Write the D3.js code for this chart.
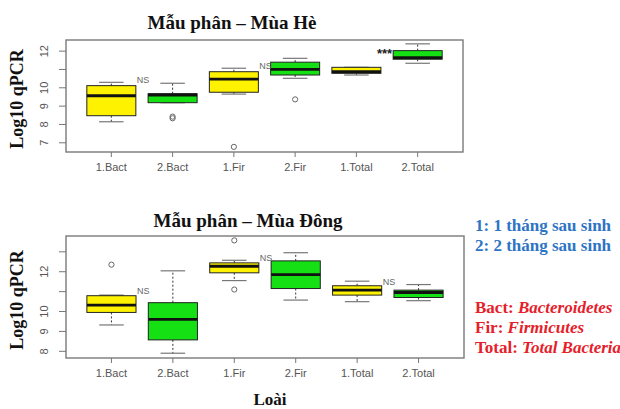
<!DOCTYPE html>
<html>
<head>
<meta charset="utf-8">
<script src="https://cdn.jsdelivr.net/npm/d3@7"></script>
<style>
  html, body { margin: 0; padding: 0; background: #fff; }
  svg { display: block; }
</style>
</head>
<body>
<svg id="chart" width="620" height="409"></svg>
<script>
// Group labels and fills (1 = one month after birth, 2 = two months)
const categories = ["1.Bact", "2.Bact", "1.Fir", "2.Fir", "1.Total", "2.Total"];
const fills = ["#FFF200", "#14E014", "#FFF200", "#14E014", "#FFF200", "#14E014"];

// Summer (Mùa Hè) box statistics, log10 qPCR
const summerLower  = [8.12, 9.16, 9.63, 10.49, 10.67, 11.31];
const summerQ1     = [8.45, 9.16, 9.73, 10.67, 10.76, 11.53];
const summerMedian = [9.54, 9.58, 10.45, 10.98, 10.85, 11.62];
const summerQ3     = [10.09, 9.65, 10.85, 11.37, 11.09, 12.0];
const summerUpper  = [10.27, 10.22, 11.04, 11.58, 11.09, 12.37];
const summerOutliers = [[], [8.31, 8.4], [6.75], [9.34], [], []];
const summerTicks = [7, 8, 9, 10, 11, 12];
const summerTickLabels = ["7", "8", "9", "10", "", "12"];
// significance of 1-month vs 2-month comparison, placed at a log10 level
const summerMarks = [
  { after: 0, text: "NS", level: 10.45 },
  { after: 2, text: "NS", level: 11.18 },
  { after: 4, text: "***", level: 11.9 }
];

// Winter (Mùa Đông) box statistics, log10 qPCR
const winterLower  = [9.3, 7.88, 11.53, 10.55, 10.47, 10.52];
const winterQ1     = [9.93, 8.55, 11.92, 11.13, 10.8, 10.68];
const winterMedian = [10.3, 9.58, 12.25, 11.83, 11.05, 10.93];
const winterQ3     = [10.77, 10.42, 12.42, 12.52, 11.27, 11.05];
const winterUpper  = [10.8, 12.02, 12.55, 12.93, 11.5, 11.33];
const winterOutliers = [[12.33], [], [13.55, 11.08], [], [], []];
const winterTicks = [8, 9, 10, 11, 12, 13];
const winterTickLabels = ["8", "9", "10", "", "12", ""];
const winterMarks = [
  { after: 0, text: "NS", level: 11.05 },
  { after: 2, text: "NS", level: 12.67 },
  { after: 4, text: "NS", level: 11.47 }
];

const svg = d3.select("#chart");
const serif = "'Liberation Serif', 'Times New Roman', serif";
const sans = "'Liberation Sans', Arial, sans-serif";

function drawPanel(opt) {
  const { top, bottom, left, right, domain, title, titleX, titleY } = opt;
  const g = svg.append("g");

  // one band per category; boxes take 0.8 of a band
  const x = d3.scaleBand().domain(categories).range([left, right]).paddingOuter(0.24).paddingInner(0);
  const bw = x.bandwidth();
  const cx = c => x(c) + bw / 2;
  const y = d3.scaleLinear().domain(domain).range([bottom, top]);

  const rows = categories.map((c, i) => ({
    c, fill: fills[i],
    lo: opt.lower[i], q1: opt.q1[i], med: opt.median[i], q3: opt.q3[i], hi: opt.upper[i],
    out: opt.outliers[i]
  }));

  const box = g.selectAll("g.box").data(rows).join("g").attr("class", "box");
  // whiskers (dashed)
  box.append("line")
    .attr("x1", d => cx(d.c)).attr("x2", d => cx(d.c))
    .attr("y1", d => y(d.q3)).attr("y2", d => y(d.hi))
    .attr("stroke", "#333").attr("stroke-width", 1).attr("stroke-dasharray", "2,2");
  box.append("line")
    .attr("x1", d => cx(d.c)).attr("x2", d => cx(d.c))
    .attr("y1", d => y(d.q1)).attr("y2", d => y(d.lo))
    .attr("stroke", "#333").attr("stroke-width", 1).attr("stroke-dasharray", "2,2");
  // staples
  ["hi", "lo"].forEach(k => {
    box.append("line")
      .attr("x1", d => cx(d.c) - bw * 0.2).attr("x2", d => cx(d.c) + bw * 0.2)
      .attr("y1", d => y(d[k])).attr("y2", d => y(d[k]))
      .attr("stroke", "#777").attr("stroke-width", 1.2);
  });
  // boxes
  box.append("rect")
    .attr("x", d => cx(d.c) - bw * 0.4).attr("width", bw * 0.8)
    .attr("y", d => y(d.q3)).attr("height", d => Math.max(0.5, y(d.q1) - y(d.q3)))
    .attr("fill", d => d.fill).attr("stroke", "#222").attr("stroke-width", 1);
  // medians
  box.append("line")
    .attr("x1", d => cx(d.c) - bw * 0.4).attr("x2", d => cx(d.c) + bw * 0.4)
    .attr("y1", d => y(d.med)).attr("y2", d => y(d.med))
    .attr("stroke", "#111").attr("stroke-width", 2.8);
  // outliers
  box.selectAll("circle").data(d => d.out.map(v => ({ c: d.c, v }))).join("circle")
    .attr("cx", d => cx(d.c)).attr("cy", d => y(d.v)).attr("r", 2.6)
    .attr("fill", "none").attr("stroke", "#666").attr("stroke-width", 1);

  // significance marks next to each 1-month box
  g.selectAll("text.sig").data(opt.marks).join("text").attr("class", "sig")
    .attr("x", d => cx(categories[d.after]) + bw * 0.4 + (d.text === "***" ? -4 : 1))
    .attr("y", d => y(d.level) + (d.text === "***" ? 6 : 3.5))
    .attr("font-family", sans).attr("font-size", d => d.text === "***" ? 13 : 9)
    .attr("font-weight", d => d.text === "***" ? "bold" : "normal")
    .attr("fill", d => d.text === "***" ? "#222" : "#666")
    .text(d => d.text);

  // frame
  g.append("rect").attr("x", left).attr("y", top).attr("width", right - left).attr("height", bottom - top)
    .attr("fill", "none").attr("stroke", "#7a7a7a").attr("stroke-width", 1.4);

  // y axis, labels rotated parallel to the axis
  const yAxis = d3.axisLeft(y).tickValues(opt.ticks).tickSize(7)
    .tickFormat((d, i) => opt.tickLabels[i]);
  const ya = g.append("g").attr("transform", `translate(${left},0)`).call(yAxis);
  ya.select(".domain").remove();
  ya.selectAll(".tick line").attr("stroke", "#777");
  ya.selectAll(".tick text")
    .attr("x", null).attr("dy", "0.35em")
    .attr("transform", "translate(-22,0) rotate(-90)")
    .attr("text-anchor", "middle")
    .attr("font-family", sans).attr("font-size", 11).attr("fill", "#555");

  // x axis
  const xAxis = d3.axisBottom(x).tickSize(5).tickPadding(6);
  const xa = g.append("g").attr("transform", `translate(0,${bottom})`).call(xAxis);
  xa.select(".domain").remove();
  xa.selectAll(".tick line").attr("stroke", "#777");
  xa.selectAll(".tick text")
    .attr("font-family", sans).attr("font-size", 11).attr("fill", "#555");

  // title
  g.append("text").attr("x", titleX).attr("y", titleY)
    .attr("text-anchor", "middle").attr("font-family", serif).attr("font-weight", "bold")
    .attr("font-size", 19).attr("fill", "#111").text(title);

  // y title
  g.append("text")
    .attr("transform", `translate(23,${(top + bottom) / 2 + 3}) rotate(-90)`)
    .attr("text-anchor", "middle").attr("font-family", serif).attr("font-weight", "bold")
    .attr("font-size", 18).attr("fill", "#111").text("Log10 qPCR");
}

drawPanel({
  top: 40, bottom: 152, left: 66, right: 463, domain: [6.47, 12.58],
  title: "Mẫu phân – Mùa Hè", titleX: 232, titleY: 29,
  lower: summerLower, q1: summerQ1, median: summerMedian, q3: summerQ3, upper: summerUpper,
  outliers: summerOutliers, ticks: summerTicks, tickLabels: summerTickLabels, marks: summerMarks
});

drawPanel({
  top: 236, bottom: 358, left: 66, right: 464, domain: [7.64, 13.77],
  title: "Mẫu phân – Mùa Đông", titleX: 248, titleY: 227,
  lower: winterLower, q1: winterQ1, median: winterMedian, q3: winterQ3, upper: winterUpper,
  outliers: winterOutliers, ticks: winterTicks, tickLabels: winterTickLabels, marks: winterMarks
});

// x axis title
svg.append("text").attr("x", 270).attr("y", 405).attr("text-anchor", "middle")
  .attr("font-family", serif).attr("font-weight", "bold").attr("font-size", 17)
  .attr("fill", "#111").text("Loài");

// legend: sampling times
const timeLegend = ["1: 1 tháng sau sinh", "2: 2 tháng sau sinh"];
svg.selectAll("text.time").data(timeLegend).join("text").attr("class", "time")
  .attr("x", 475).attr("y", (d, i) => 231 + i * 20)
  .attr("font-family", serif).attr("font-weight", "bold").attr("font-size", 17)
  .attr("fill", "#2E74C4").text(d => d);

// legend: bacterial groups
const groupKeys = ["Bact: ", "Fir: ", "Total: "];
const groupNames = ["Bacteroidetes", "Firmicutes", "Total Bacteria"];
const gl = svg.selectAll("text.grp").data(groupKeys).join("text").attr("class", "grp")
  .attr("x", 475).attr("y", (d, i) => 313 + i * 20)
  .attr("font-family", serif).attr("font-weight", "bold").attr("font-size", 17)
  .attr("fill", "#E5202A");
gl.append("tspan").text(d => d);
gl.append("tspan").attr("font-style", "italic").text((d, i) => groupNames[i]);
</script>
</body>
</html>
